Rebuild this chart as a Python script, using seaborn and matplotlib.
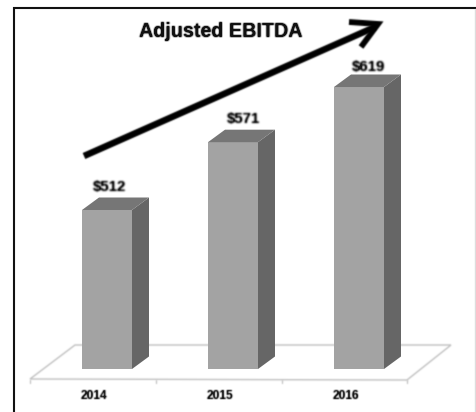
import numpy as np
import pandas as pd
import seaborn as sns
import matplotlib
matplotlib.use("Agg")
import matplotlib.pyplot as plt
from matplotlib.colors import to_rgb
from matplotlib.patches import Polygon

years = ["2014", "2015", "2016"]
ebitda = [512, 571, 619]
labels = ["$512", "$571", "$619"]
title = "Adjusted EBITDA"

W, H = 477, 412
sns.set_theme(style="white")
plt.rcParams["font.family"] = ["Liberation Sans", "DejaVu Sans"]
fig = plt.figure(figsize=(W / 100, H / 100), dpi=100, facecolor="white")
ax = fig.add_axes([0, 0, 1, 1])

# scale: categories 126 px apart, values 1.15 px per unit
PX_X = 126.0
PX_Y = 1.1495
X0 = 107.0
BASE_PX = 369.0
BASE = 512 - (BASE_PX - 210) / PX_Y
ax.axis("off")

def px(x, y):
    return ((x - X0) / PX_X, 512 + (210 - y) / PX_Y)

def soften(color, gain=1.0):
    """Light blur of the coverage only: the reference is a soft, low-resolution scan."""
    rgb = to_rgb(color)
    def flt(image, dpi):
        pad = 3
        a = np.pad(image[..., 3], pad, mode="constant")
        k = np.array([0.2, 0.6, 0.2])
        for axis in (0, 1):
            a = np.apply_along_axis(lambda m: np.convolve(m, k, mode="same"), axis, a)
        out = np.zeros(a.shape + (4,), dtype=image.dtype)
        out[..., :3] = rgb
        out[..., 3] = np.clip(a * gain, 0, 1)
        return out, -pad, -pad
    return flt

# floor
floor = [px(30, 379), px(75, 345), px(451, 345), px(407, 380)]
ax.add_patch(Polygon(floor, closed=True, fc="none", ec="#c0c0c0", lw=1.0, zorder=1,
                     agg_filter=soften("#c0c0c0")))
for tx in (30, 156, 282, 407):
    ax.plot(*zip(px(tx, 380), px(tx, 383)), color="#c0c0c0", lw=0.9, zorder=1,
            agg_filter=soften("#c0c0c0"))

# bars
df = pd.DataFrame({"year": years, "height": [v - BASE for v in ebitda]})
BAR_W = 50 / PX_X
sns.barplot(data=df, x="year", y="height", bottom=BASE, width=BAR_W, color="#a3a3a3",
            saturation=1, linewidth=0, ax=ax, zorder=3)
ax.set_xlim(-X0 / PX_X, (W - X0) / PX_X)
ax.set_ylim(512 - (H - 210) / PX_Y, 512 + 210 / PX_Y)
ax.set_xlabel(""); ax.set_ylabel("")

DX = 17 / PX_X
DY = 12.5 / PX_Y
for i, v in enumerate(ebitda):
    l, r = i - BAR_W / 2, i + BAR_W / 2
    ax.add_patch(Polygon([(r, BASE), (r + DX, BASE + DY), (r + DX, v + DY), (r, v)],
                         closed=True, fc="#666666", ec="none", zorder=3))
    ax.add_patch(Polygon([(l, v), (l + DX, v + DY), (r + DX, v + DY), (r, v)],
                         closed=True, fc="#767676", ec="none", zorder=3))

# value labels
lab_dx = [3, 10, 9]
lab_dy = [23, 23, 20]
for i, (v, s) in enumerate(zip(ebitda, labels)):
    ax.annotate(s, (i, v), xytext=(lab_dx[i] * 0.72, lab_dy[i] * 0.72), textcoords="offset points",
                ha="center", va="center", fontsize=10.8, fontweight="bold", color="#1a1a1a", zorder=5,
                agg_filter=soften("#1a1a1a", 1.15))

# category labels
for i, s in enumerate(years):
    x, y = px(X0 + i * PX_X - 13, 396)
    ax.text(x, y, s, ha="center", va="center", fontsize=8.6, fontweight="bold", color="#1a1a1a",
            agg_filter=soften("#1a1a1a", 1.3))

# title and arrow
x, y = px(221, 32)
ax.text(x, y, title, ha="center", va="center", fontsize=14.2, fontweight="bold", color="#111111",
        agg_filter=soften("#111111", 1.5))
ax.plot(*zip(px(84, 156), px(375, 27)), color="black", lw=4.7, zorder=6, solid_capstyle="butt",
        agg_filter=soften("black"))
ax.plot(*zip(px(349, 22), px(378, 24), px(361, 47)), color="black", lw=4.2, zorder=6,
        solid_joinstyle="miter", solid_capstyle="butt", agg_filter=soften("black"))

# frame of the screenshot
ax.plot(*zip(px(14, 412), px(14, 8), px(477, 8)), color="#111111", lw=1.5, zorder=7,
        solid_joinstyle="miter")
ax.plot(*zip(px(475, 9), px(475, 412)), color="#dddddd", lw=1.0, zorder=7)

fig.savefig("out.png", dpi=100, facecolor="white")
